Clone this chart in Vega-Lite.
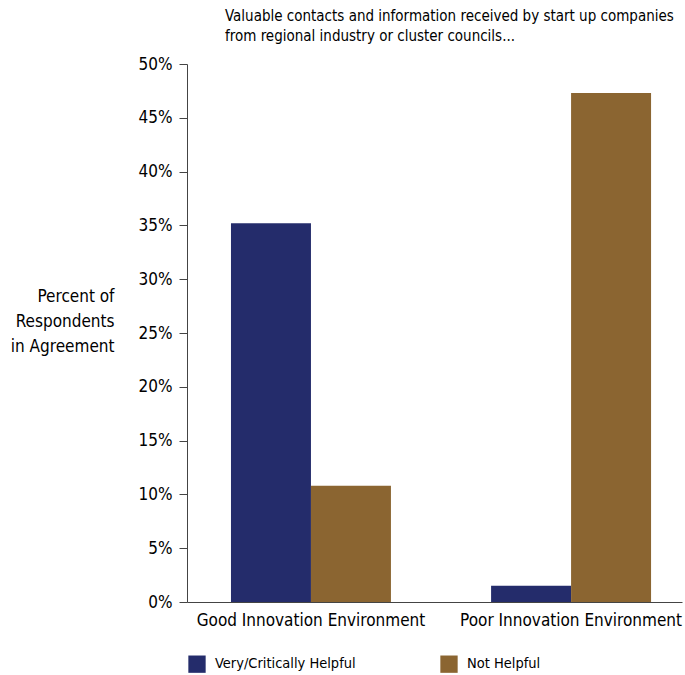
{
  "$schema": "https://vega.github.io/schema/vega-lite/v6.json",
  "width": 495,
  "height": 538,
  "autosize": {"type": "none"},
  "padding": {"left": 187, "top": 64, "right": 3, "bottom": 73},
  "background": "white",
  "config": {"view": {"stroke": null}, "font": "DejaVu Sans Condensed"},
  "title": {
    "text": ["Valuable contacts and information received by start up companies", "from regional industry or cluster councils..."],
    "anchor": "start",
    "frame": "group",
    "dx": 38,
    "offset": 11,
    "fontSize": 15,
    "fontWeight": "normal",
    "font": "DejaVu Sans Condensed",
    "lineHeight": 20,
    "color": "black"
  },
  "data": {
    "values": [
      {"environment": "Good Innovation Environment", "response": "Very/Critically Helpful", "percent": 35.2},
      {"environment": "Good Innovation Environment", "response": "Not Helpful", "percent": 10.8},
      {"environment": "Poor Innovation Environment", "response": "Very/Critically Helpful", "percent": 1.5},
      {"environment": "Poor Innovation Environment", "response": "Not Helpful", "percent": 47.3}
    ]
  },
  "mark": {"type": "bar"},
  "encoding": {
    "x": {
      "field": "environment",
      "type": "nominal",
      "sort": ["Good Innovation Environment", "Poor Innovation Environment"],
      "scale": {"paddingInner": 0.385, "paddingOuter": 0.144, "align": 0.587},
      "axis": {
        "title": null,
        "labelAngle": 0,
        "ticks": false,
        "domainColor": "#444444",
        "labelFontSize": 17,
        "labelColor": "black",
        "labelPadding": 10,
        "labelLimit": 400,
        "labelFont": "DejaVu Sans Condensed"
      }
    },
    "xOffset": {
      "field": "response",
      "type": "nominal",
      "sort": ["Very/Critically Helpful", "Not Helpful"],
      "scale": {"paddingInner": 0, "paddingOuter": 0}
    },
    "y": {
      "field": "percent",
      "type": "quantitative",
      "scale": {"domain": [0, 50]},
      "axis": {
        "values": [0, 5, 10, 15, 20, 25, 30, 35, 40, 45, 50],
        "labelExpr": "datum.value + '%'",
        "grid": false,
        "tickSize": 8,
        "tickColor": "#444444",
        "domainColor": "#444444",
        "labelFontSize": 17,
        "labelColor": "black",
        "labelFont": "DejaVu Sans Condensed",
        "labelPadding": 7,
        "title": ["Percent of", "Respondents", "in Agreement"],
        "titleAngle": 0,
        "titleAlign": "right",
        "titleBaseline": "top",
        "titleX": -73,
        "titleY": 224,
        "titleFontSize": 17,
        "titleFontWeight": "normal",
        "titleFont": "DejaVu Sans Condensed",
        "titleColor": "black",
        "titleLineHeight": 25
      }
    },
    "color": {
      "field": "response",
      "type": "nominal",
      "scale": {"domain": ["Very/Critically Helpful", "Not Helpful"], "range": ["#242C6B", "#8B6531"]},
      "legend": {
        "title": null,
        "orient": "none",
        "legendX": 1,
        "legendY": 591,
        "direction": "horizontal",
        "columns": 2,
        "columnPadding": 84,
        "symbolType": "square",
        "symbolSize": 300,
        "symbolStrokeWidth": 0,
        "symbolOpacity": 1,
        "labelFontSize": 14.5,
        "labelOffset": 9,
        "labelColor": "black",
        "labelFont": "DejaVu Sans Condensed",
        "labelLimit": 300
      }
    }
  }
}
